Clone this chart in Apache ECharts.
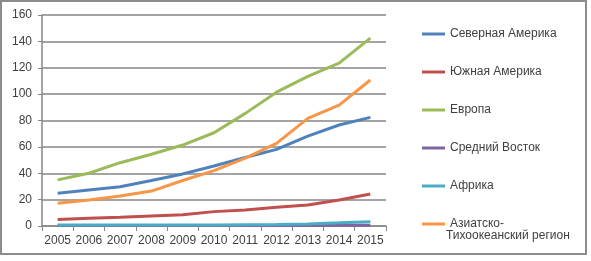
<!DOCTYPE html>
<html>
<head>
<meta charset="utf-8">
<script src="https://cdn.jsdelivr.net/npm/echarts@6/dist/echarts.min.js"></script>
<style>
html, body { margin: 0; padding: 0; background: #fff; }
#frame {
    position: absolute; left: 0; top: 0;
    width: 583px; height: 251px;
    border: 2px solid #8c8c8c;
}
#chart { position: absolute; left: 0; top: 0; width: 591px; height: 261px; }
</style>
</head>
<body>
<div id="frame"></div>
<div id="chart"></div>
<script>
// годы
var years = ['2005', '2006', '2007', '2008', '2009', '2010', '2011', '2012', '2013', '2014', '2015'];
// значения по регионам
var northAmerica = [24.8, 27.3, 29.8, 34.5, 39.5, 45.5, 52, 58.1, 68.2, 76.6, 82.4];
var southAmerica = [5, 5.8, 6.6, 7.6, 8.6, 10.9, 12.1, 14.2, 15.9, 19.7, 24.3];
var europe = [35, 40, 48, 54.4, 61.4, 70.7, 85.4, 101.5, 113.5, 123.5, 142.5];
var middleEast = [0.3, 0.3, 0.3, 0.3, 0.3, 0.3, 0.3, 0.4, 0.4, 0.5, 0.5];
var africa = [0.8, 0.8, 0.8, 0.8, 0.8, 0.8, 1, 1.2, 1.6, 2.4, 3.3];
var asiaPacific = [17.2, 19.7, 22.7, 26.5, 34.5, 42, 51.5, 62.7, 81.6, 91.7, 110.7];
var yTicks = [0, 20, 40, 60, 80, 100, 120, 140, 160];

var names = ['Северная Америка', 'Южная Америка', 'Европа', 'Средний Восток', 'Африка', 'Азиатско-Тихоокеанский регион'];
var colors = ['#4F81BD', '#C0504D', '#9BBB59', '#8064A2', '#4BACC6', '#F79646'];
var values = [northAmerica, southAmerica, europe, middleEast, africa, asiaPacific];

var myChart = echarts.init(document.getElementById('chart'));

var series = [];
for (var i = 0; i < names.length; i++) {
    series.push({
        name: names[i],
        type: 'line',
        data: values[i],
        symbol: 'none',
        lineStyle: { width: 3, color: colors[i] },
        itemStyle: { color: colors[i] },
        z: i == 4 ? 3 : 2
    });
}

var option = {
    animation: false,
    textStyle: { fontFamily: 'Liberation Sans' },
    grid: { left: 42, top: 15, right: 205, bottom: 35 },
    legend: {
        orient: 'vertical',
        left: 417,
        top: 23,
        itemWidth: 23,
        itemHeight: 3,
        itemGap: 26,
        icon: 'rect',
        data: names,
        formatter: function (name) {
            return name == 'Азиатско-Тихоокеанский регион' ? 'Азиатско-' : name;
        },
        textStyle: { color: '#404040', fontSize: 12, fontFamily: 'Liberation Sans' }
    },
    graphic: [{
        type: 'text',
        left: 446,
        top: 230,
        style: { text: 'Тихоокеанский регион', fill: '#404040', font: '12px "Liberation Sans"' }
    }],
    xAxis: {
        type: 'category',
        data: years,
        boundaryGap: true,
        axisLine: { lineStyle: { color: '#868686', width: 1.5 } },
        axisTick: { show: true, length: 5, lineStyle: { color: '#868686' } },
        axisLabel: { color: '#404040', fontSize: 12, margin: 9, interval: 0 }
    },
    yAxis: {
        type: 'value',
        min: yTicks[0],
        max: yTicks[yTicks.length - 1],
        interval: 20,
        axisLine: { show: true, lineStyle: { color: '#868686', width: 1.5 } },
        axisTick: { show: true, length: 4, lineStyle: { color: '#868686' } },
        axisLabel: { color: '#404040', fontSize: 12, margin: 10 },
        splitLine: { lineStyle: { color: '#868686', width: 1.5 } }
    },
    series: series
};

myChart.setOption(option);
</script>
</body>
</html>
